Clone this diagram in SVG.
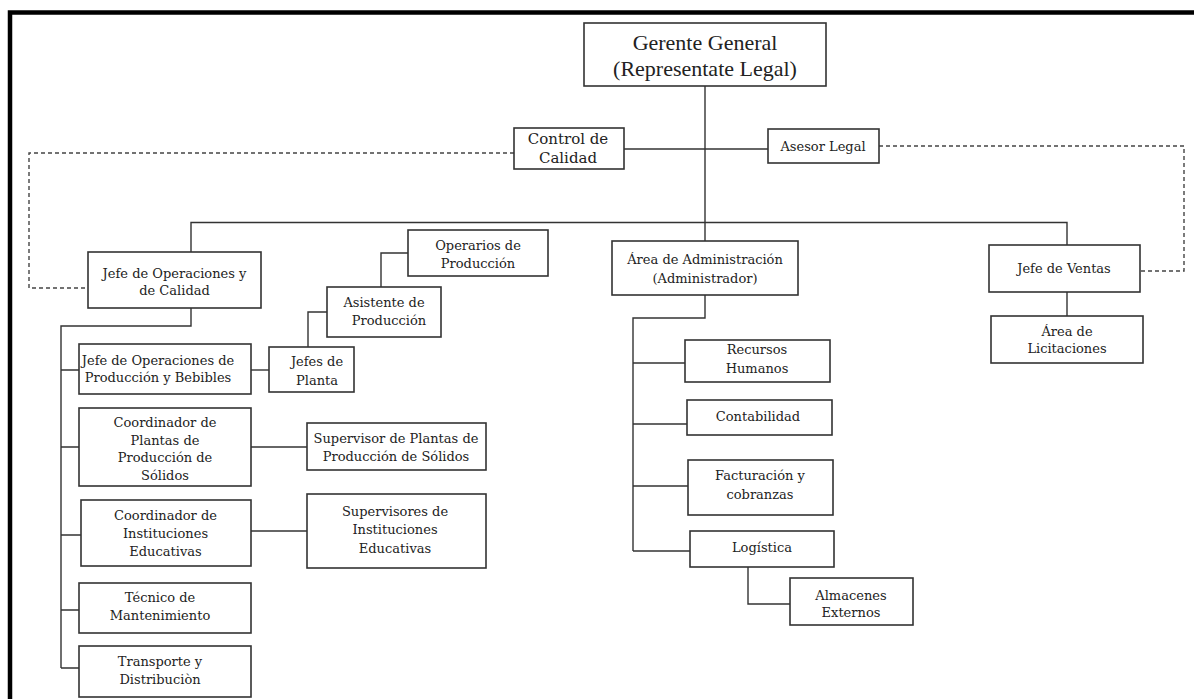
<svg xmlns="http://www.w3.org/2000/svg" width="1194" height="699" viewBox="0 0 1194 699">
<style>
.box{fill:#fff;stroke:#333;stroke-width:1.6}
.ln{fill:none;stroke:#333;stroke-width:1.4}
.dash{fill:none;stroke:#444;stroke-width:1.4;stroke-dasharray:4 3}
text{font-family:"DejaVu Serif","Liberation Serif",serif;font-size:13px;fill:#222;text-anchor:middle}
.big{font-family:"Liberation Serif",serif;font-size:22px}
.mid{font-size:15px}
</style>
<rect x="0" y="0" width="1194" height="699" fill="#fff"/>
<path d="M10,699 V12.5 H1194" fill="none" stroke="#000" stroke-width="4.5"/>
<g id="connectors">
<path class="ln" d="M705,86 V241"/>
<path class="ln" d="M191,252 V222.5 H1067 V245"/>
<path class="ln" d="M624,149 H768"/>
<path class="dash" d="M514,153 H29 V288 H88"/>
<path class="dash" d="M879,146 H1184 V271 H1140"/>
<path class="ln" d="M191,308 V326 H61 V668"/>
<path class="ln" d="M61,370 H79 M61,447 H79 M61,535 H81 M61,610 H79 M61,668 H79"/>
<path class="ln" d="M251,370 H269"/>
<path class="ln" d="M308,347 V312 H327"/>
<path class="ln" d="M381,287 V253 H408"/>
<path class="ln" d="M251,447 H307"/>
<path class="ln" d="M251,531 H307"/>
<path class="ln" d="M1067,292 V316"/>
<path class="ln" d="M705,295 V318 H633 V551"/>
<path class="ln" d="M633,363 H685 M633,424 H687 M633,486 H688 M633,551 H690"/>
<path class="ln" d="M748,567 V604 H790"/>
</g>
<g id="gerente"><rect class="box" x="584" y="23" width="242" height="63"/><text class="big" x="705" y="50">Gerente General</text><text class="big" x="705" y="76">(Representate Legal)</text></g>
<g id="control"><rect class="box" x="514" y="128" width="110" height="41"/><text class="mid" x="568" y="143.5">Control de</text><text class="mid" x="568" y="162.5">Calidad</text></g>
<g id="asesor"><rect class="box" x="768" y="129" width="111" height="34"/><text x="823" y="151">Asesor Legal</text></g>
<g id="jefeops"><rect class="box" x="88" y="252" width="173" height="56"/><text x="174.5" y="278">Jefe de Operaciones y</text><text x="174.5" y="294.5">de Calidad</text></g>
<g id="admin"><rect class="box" x="612" y="241" width="186" height="54"/><text x="705" y="263.5">Área de Administración</text><text x="705" y="282.5">(Administrador)</text></g>
<g id="ventas"><rect class="box" x="989" y="245" width="151" height="47"/><text x="1064" y="273">Jefe de Ventas</text></g>
<g id="licitaciones"><rect class="box" x="991" y="316" width="152" height="47"/><text x="1067" y="336">Área de</text><text x="1067" y="353">Licitaciones</text></g>
<g id="operarios"><rect class="box" x="408" y="230" width="140" height="46"/><text x="478" y="249.5">Operarios de</text><text x="478" y="268">Producción</text></g>
<g id="asistente"><rect class="box" x="327" y="287" width="114" height="50"/><text x="384" y="307">Asistente  de</text><text x="389" y="324.5">Producción</text></g>
<g id="jefesplanta"><rect class="box" x="269" y="347" width="85" height="45"/><text x="317" y="366">Jefes de</text><text x="317" y="384.5">Planta</text></g>
<g id="supplantas"><rect class="box" x="307" y="423" width="179" height="47"/><text x="396" y="442.5">Supervisor de Plantas de</text><text x="396" y="460.5">Producción de Sólidos</text></g>
<g id="jefeprod"><rect class="box" x="79" y="344" width="172" height="50"/><text x="158" y="364.5">Jefe de Operaciones de</text><text x="158" y="381.5">Producción y Bebibles</text></g>
<g id="coordplantas"><rect class="box" x="79" y="408" width="172" height="78"/><text x="165" y="427">Coordinador de</text><text x="165" y="444.5">Plantas  de</text><text x="165" y="461.5">Producción de</text><text x="165" y="480">Sólidos</text></g>
<g id="coordinst"><rect class="box" x="81" y="500" width="170" height="66"/><text x="165.5" y="519.5">Coordinador de</text><text x="165.5" y="538">Instituciones</text><text x="165.5" y="556">Educativas</text></g>
<g id="supinst"><rect class="box" x="307" y="494" width="179" height="74"/><text x="395" y="515.5">Supervisores de</text><text x="395" y="533.5">Instituciones</text><text x="395" y="552.5">Educativas</text></g>
<g id="tecnico"><rect class="box" x="79" y="583" width="172" height="50"/><text x="160" y="601.5">Técnico de</text><text x="160" y="619.5">Mantenimiento</text></g>
<g id="transporte"><rect class="box" x="79" y="646" width="172" height="51"/><text x="160" y="666">Transporte y</text><text x="160" y="683.5">Distribuciòn</text></g>
<g id="rrhh"><rect class="box" x="685" y="340" width="145" height="42"/><text x="757" y="353.5">Recursos</text><text x="757" y="372.5">Humanos</text></g>
<g id="contabilidad"><rect class="box" x="687" y="400" width="145" height="35"/><text x="758" y="420.5">Contabilidad</text></g>
<g id="facturacion"><rect class="box" x="688" y="460" width="145" height="55"/><text x="760" y="479.5">Facturación y</text><text x="760" y="499">cobranzas</text></g>
<g id="logistica"><rect class="box" x="690" y="531" width="144" height="36"/><text x="762" y="552">Logística</text></g>
<g id="almacenes"><rect class="box" x="790" y="578" width="123" height="47"/><text x="851" y="599.5">Almacenes</text><text x="851" y="617">Externos</text></g>
</svg>
